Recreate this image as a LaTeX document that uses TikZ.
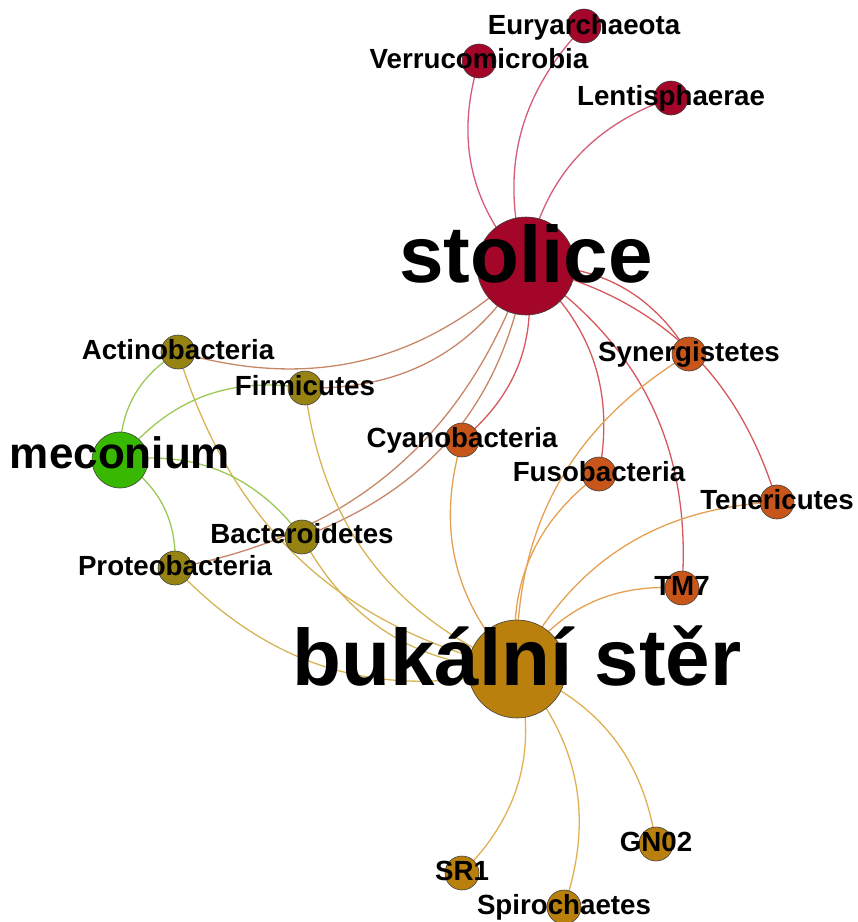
\documentclass[tikz,border=0pt]{standalone}
\usepackage{fontspec}
\setmainfont{Liberation Sans}
\usetikzlibrary{backgrounds}
\definecolor{cRed}{RGB}{163,6,40}
\definecolor{cGold}{RGB}{185,128,14}
\definecolor{cGreen}{RGB}{56,184,0}
\definecolor{cOlive}{RGB}{150,131,20}
\definecolor{cOrange}{RGB}{200,86,26}
\definecolor{eRedRed}{RGB}{212,92,118}
\definecolor{eRedOr}{RGB}{214,88,92}
\definecolor{eRedOl}{RGB}{200,134,104}
\definecolor{eGoOr}{RGB}{230,160,82}
\definecolor{eGoOl}{RGB}{214,180,84}
\definecolor{eGoGo}{RGB}{224,176,82}
\definecolor{eGrOl}{RGB}{156,200,84}
\tikzset{
  vtx/.style={circle, draw=black!75, line width=0.6pt, inner sep=0pt, minimum size=#1},
  small/.style={vtx=34pt},
  lbl/.style={inner sep=0pt, outer sep=0pt, anchor=base, font=\bfseries\fontsize{27.7}{30}\selectfont},
  biglbl/.style={inner sep=0pt, outer sep=0pt, anchor=base, font=\bfseries\fontsize{80}{84}\selectfont},
  medlbl/.style={inner sep=0pt, outer sep=0pt, anchor=base, font=\bfseries\fontsize{44}{48}\selectfont},
  edge/.style={line width=1.3pt, bend left=30, draw=#1}
}
\begin{document}
\begin{tikzpicture}[x=1pt,y=-1pt]
\useasboundingbox (0,0) rectangle (858,922);
% hubs
\node[vtx=98pt, fill=cRed] (sto) at (526,266) {};
\node[vtx=98pt, fill=cGold] (buk) at (517,669) {};
\node[vtx=56pt, fill=cGreen] (mec) at (120,460) {};
% leaves
\node[small, fill=cRed] (eur) at (584,26) {};
\node[small, fill=cRed] (ver) at (479,61) {};
\node[small, fill=cRed] (len) at (671,98) {};
\node[small, fill=cOlive] (act) at (178,352) {};
\node[small, fill=cOlive] (fir) at (305,388) {};
\node[small, fill=cOlive] (bac) at (302,537) {};
\node[small, fill=cOlive] (pro) at (175,568) {};
\node[small, fill=cOrange] (syn) at (689,354) {};
\node[small, fill=cOrange] (cya) at (462,440) {};
\node[small, fill=cOrange] (fus) at (599,474) {};
\node[small, fill=cOrange] (ten) at (777,502) {};
\node[small, fill=cOrange] (tm) at (682,588) {};
\node[small, fill=cGold] (sr) at (462,873) {};
\node[small, fill=cGold] (gn) at (656,844) {};
\node[small, fill=cGold] (spi) at (564,907) {};
% edges (centre to centre, hidden under the circles)
\begin{scope}[on background layer]
\draw[edge=eRedRed] (sto.center) to (ver.center);
\draw[edge=eRedRed] (sto.center) to (eur.center);
\draw[edge=eRedRed] (sto.center) to (len.center);
\draw[edge=eRedOr] (sto.center) to (syn.center);
\draw[edge=eRedOr] (sto.center) to (ten.center);
\draw[edge=eRedOr] (sto.center) to (fus.center);
\draw[edge=eRedOr] (sto.center) to (tm.center);
\draw[edge=eRedOr] (sto.center) to (cya.center);
\draw[edge=eRedOl] (sto.center) to (bac.center);
\draw[edge=eRedOl] (sto.center) to (pro.center);
\draw[edge=eRedOl] (sto.center) to (act.center);
\draw[edge=eRedOl] (sto.center) to (fir.center);
\draw[edge=eGoGo] (buk.center) to (sr.center);
\draw[edge=eGoGo] (buk.center) to (spi.center);
\draw[edge=eGoGo] (buk.center) to (gn.center);
\draw[edge=eGoOr] (buk.center) to (tm.center);
\draw[edge=eGoOr] (buk.center) to (ten.center);
\draw[edge=eGoOr] (buk.center) to (syn.center);
\draw[edge=eGoOr] (buk.center) to (fus.center);
\draw[edge=eGoOr] (buk.center) to (cya.center);
\draw[edge=eGoOl] (buk.center) to (act.center);
\draw[edge=eGoOl] (buk.center) to (fir.center);
\draw[edge=eGoOl] (buk.center) to (bac.center);
\draw[edge=eGoOl] (buk.center) to (pro.center);
\draw[edge=eGrOl] (mec.center) to (act.center);
\draw[edge=eGrOl] (mec.center) to (fir.center);
\draw[edge=eGrOl] (mec.center) to (bac.center);
\draw[edge=eGrOl] (mec.center) to (pro.center);
\end{scope}
% labels
\node[biglbl, yshift=-16pt] (Lsto) at (sto.center) {stolice};
\node[biglbl, yshift=-16pt] (Lbuk) at (buk.center) {bukální stěr};
\node[medlbl, yshift=-8pt] (Lmec) at (mec.center) {meconium};
\node[lbl, yshift=-8pt] (Leur) at (eur.center) {Euryarchaeota};
\node[lbl, yshift=-7pt] (Lver) at (ver.center) {Verrucomicrobia};
\node[lbl, yshift=-7pt] (Llen) at (len.center) {Lentisphaerae};
\node[lbl, yshift=-7pt] (Lact) at (act.center) {Actinobacteria};
\node[lbl, yshift=-7pt] (Lfir) at (fir.center) {Firmicutes};
\node[lbl, yshift=-6pt] (Lbac) at (bac.center) {Bacteroidetes};
\node[lbl, yshift=-7pt] (Lpro) at (pro.center) {Proteobacteria};
\node[lbl, yshift=-7pt] (Lsyn) at (syn.center) {Synergistetes};
\node[lbl, yshift=-7pt] (Lcya) at (cya.center) {Cyanobacteria};
\node[lbl, yshift=-7pt] (Lfus) at (fus.center) {Fusobacteria};
\node[lbl, yshift=-7pt] (Lten) at (ten.center) {Tenericutes};
\node[lbl, yshift=-7pt] (Ltm) at (tm.center) {TM7};
\node[lbl, yshift=-7pt] (Lsr) at (sr.center) {SR1};
\node[lbl, yshift=-7pt] (Lgn) at (gn.center) {GN02};
\node[lbl, yshift=-7pt] (Lspi) at (spi.center) {Spirochaetes};
\end{tikzpicture}
\end{document}
